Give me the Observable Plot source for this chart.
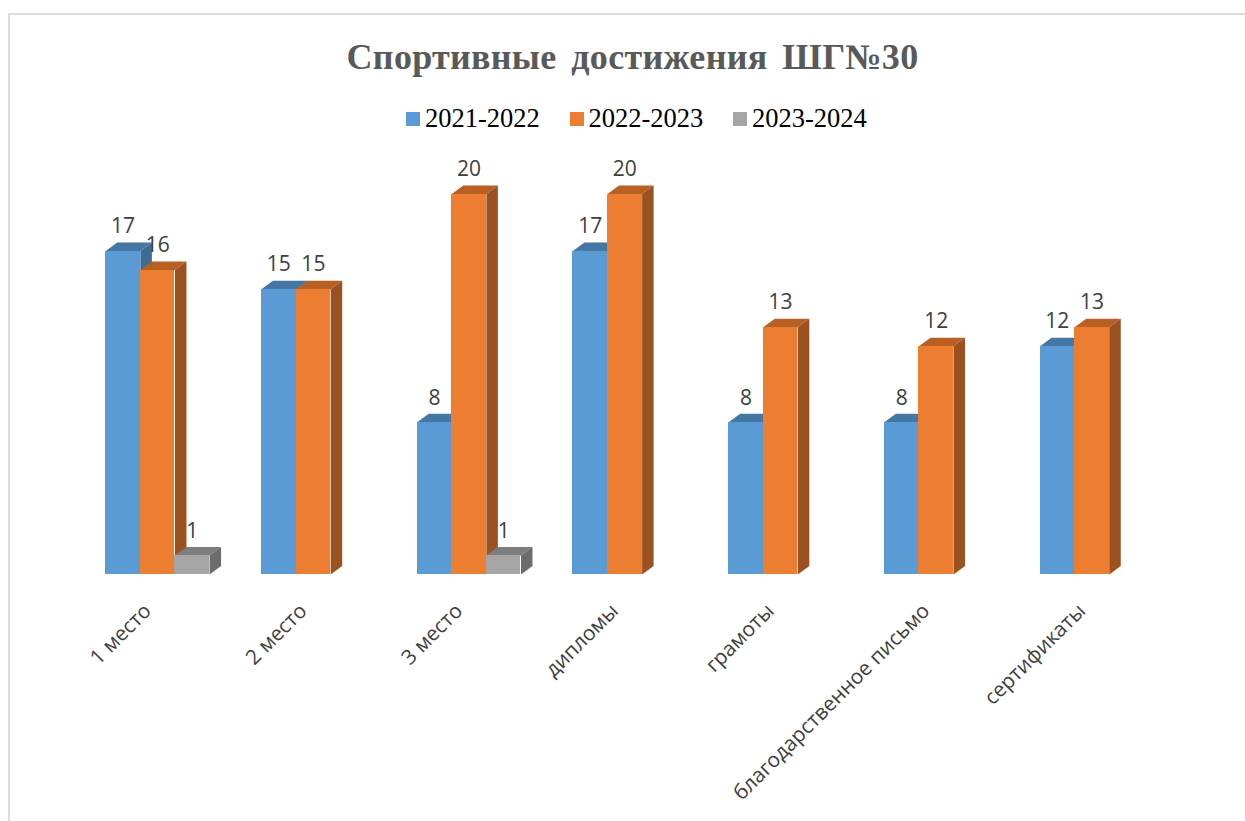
<!DOCTYPE html>
<html><head><meta charset="utf-8">
<script src="https://cdn.jsdelivr.net/npm/d3@7"></script>
<script src="https://cdn.jsdelivr.net/npm/@observablehq/plot@0.6"></script>
<style>
html,body{margin:0;padding:0;background:#fff}
#page{position:relative;width:1245px;height:821px;overflow:hidden}
#frame{position:absolute;left:8px;top:13px;width:1245px;height:900px;border:2px solid #dcdcdc;box-sizing:border-box}
#title{position:absolute;left:0;width:1265px;top:36px;text-align:center;font:bold 36px/42px "Liberation Serif",serif;color:#595959;word-spacing:5.5px;letter-spacing:.3px}
#legend{position:absolute;top:102px;left:0;height:32px;font:26.5px/32px "Liberation Serif",serif;color:#000}
#legend .sw{position:absolute;top:10px;width:14px;height:14px}
#legend .lb{position:absolute;top:0;white-space:nowrap}
#chart{position:absolute;left:0;top:140px}
</style></head><body>
<div id="page"><div id="frame"></div>
<div id="title">Спортивные достижения ШГ№30</div>
<div id="legend"></div><div id="chart"></div></div>
<script>
const categories = ["1 место","2 место","3 место","дипломы","грамоты","благодарственное письмо","сертификаты"];
const seriesNames = ["2021-2022","2022-2023","2023-2024"];
const values2021 = [17,15,8,17,8,8,12];
const values2022 = [16,15,20,20,13,12,13];
const values2023 = [1,null,1,null,null,null,null];
const frontColors = ["#5b9bd5","#ed7d31","#a5a5a5"];
const topColors = ["#4577a5","#b85f23","#7e7e7e"];
const sideColors = ["#3f6c96","#9c5220","#6c6c6c"];

const seriesValues = [values2021, values2022, values2023];
const groupStep = 155.7, barW = 34.6/groupStep, depthX = 11.5/groupStep, depthY = 8.5/19.05;
const rows = seriesValues.map((vals,s)=>vals.map((v,c)=>({c,s,v})).filter(d=>d.v!=null).map(d=>{
  const x0 = d.c + 0.5 + (s-1.5)*barW;
  return {...d,x0,x1:x0+barW};
}));
const facePoints = rows.map((list,s)=>list.flatMap(d=>[
  {z:`t${d.c}`,x:d.x0,y:d.v,f:topColors[s]},
  {z:`t${d.c}`,x:d.x0+depthX,y:d.v+depthY,f:topColors[s]},
  {z:`t${d.c}`,x:d.x1+depthX,y:d.v+depthY,f:topColors[s]},
  {z:`t${d.c}`,x:d.x1,y:d.v,f:topColors[s]},
  {z:`s${d.c}`,x:d.x1,y:d.v,f:sideColors[s]},
  {z:`s${d.c}`,x:d.x1+depthX,y:d.v+depthY,f:sideColors[s]},
  {z:`s${d.c}`,x:d.x1+depthX,y:depthY,f:sideColors[s]},
  {z:`s${d.c}`,x:d.x1,y:0,f:sideColors[s]}
]));
const marks = [];
rows.forEach((list,s)=>{
  marks.push(Plot.line(facePoints[s],{x:"x",y:"y",z:"z",fill:d=>d.f,stroke:"none"}));
  marks.push(Plot.rect(list,{x1:"x0",x2:"x1",y1:0,y2:"v",fill:frontColors[s],shapeRendering:"crispEdges"}));
});
marks.push(Plot.text(rows.flat(),{x:d=>d.x0+barW/2,y:"v",text:d=>String(d.v),dy:-24.5,fill:"#404040",fontSize:21,fontFamily:"'Open Sans',sans-serif"}));
marks.push(Plot.axisX(categories.map((_,i)=>i+0.5),{tickFormat:(_,i)=>categories[i],tickSize:0,tickRotate:-45,tickPadding:33,dx:-10,fontSize:20.7,fontFamily:"'Open Sans',sans-serif",fill:"#404040",label:null}));

const plot = Plot.plot({
  width:1245,height:681,marginLeft:79.3,marginRight:75.7,marginTop:53.5,marginBottom:247,
  x:{domain:[0,7],axis:null},y:{domain:[0,20],axis:null},
  style:{background:"transparent",overflow:"visible"},
  marks
});
document.getElementById("chart").append(plot);

const legend = document.getElementById("legend");
seriesNames.forEach((n,i)=>{
  const sw=document.createElement("span");sw.className="sw";sw.style.left=(406+i*163.5)+"px";sw.style.background=frontColors[i];
  const lb=document.createElement("span");lb.className="lb";lb.style.left=(425+i*163.5)+"px";lb.textContent=n;
  legend.append(sw,lb);
});
</script></body></html>
